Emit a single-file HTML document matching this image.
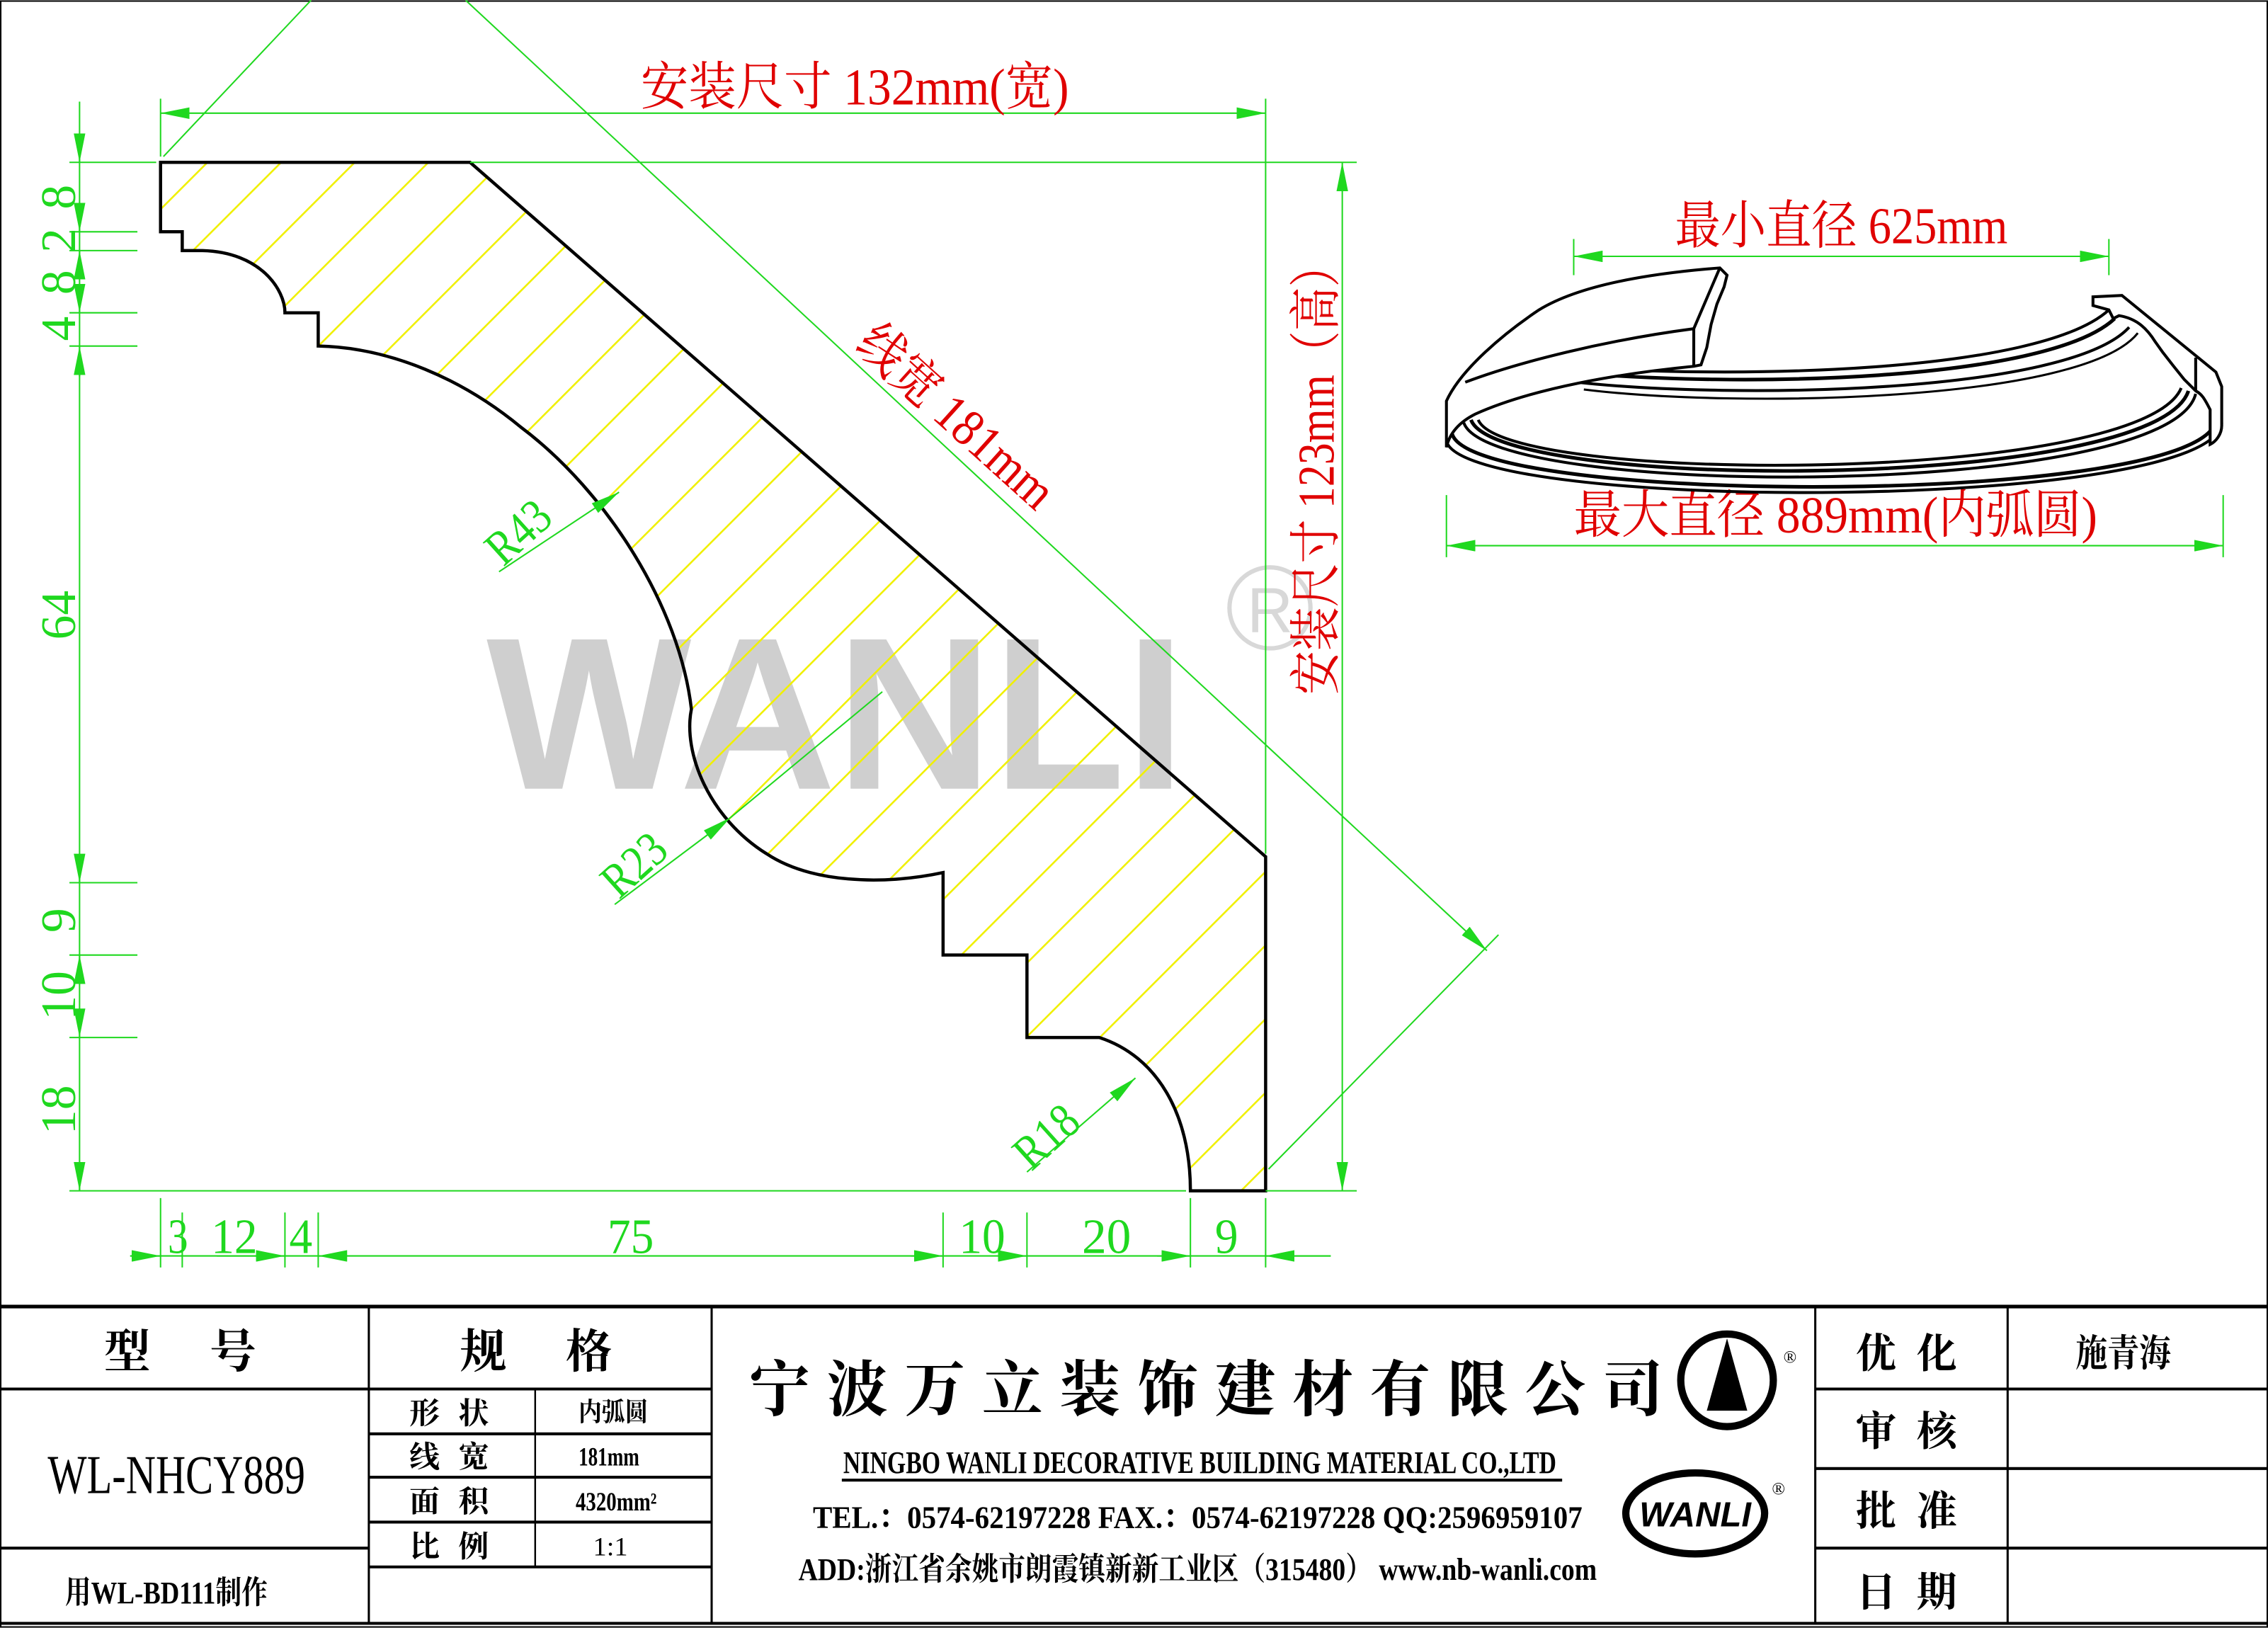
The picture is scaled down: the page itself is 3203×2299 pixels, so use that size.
<!DOCTYPE html>
<html><head><meta charset="utf-8"><style>
html,body{margin:0;padding:0;background:#fff}
svg{display:block}
text{font-family:"Liberation Serif","Noto Serif CJK SC","Noto Sans CJK SC",serif}
.g{fill:#1fd81f}.r{fill:#e00000}
</style></head><body>
<svg width="3203" height="2299" viewBox="0 0 1568 1125" xmlns="http://www.w3.org/2000/svg">
<defs>
<pattern id="h" patternUnits="userSpaceOnUse" width="36" height="36" patternTransform="rotate(-45)">
<line x1="0" y1="0" x2="36" y2="0" stroke="#f0f000" stroke-width="2.6"/>
</pattern>
<marker id="a" viewBox="0 0 20 8" refX="20" refY="4" markerWidth="20" markerHeight="8" markerUnits="userSpaceOnUse" orient="auto-start-reverse"><path d="M0,0 L20,4 L0,8 z" fill="#1fd81f"/></marker>
</defs>
<rect x="0.5" y="0.5" width="1567" height="1124" fill="#fff" stroke="#000" stroke-width="1"/>

<text x="578" y="545" text-anchor="middle" font-weight="bold" font-size="150" fill="#cfcfcf" style="font-family:'Liberation Sans',sans-serif">WANLI</text>
<circle cx="878" cy="420" r="28" fill="none" stroke="#d8d8d8" stroke-width="3"/>
<text x="878" y="437" text-anchor="middle" font-size="44" fill="#d8d8d8" style="font-family:'Liberation Sans',sans-serif">R</text>

<path d="M111,112 L325,112 L875,592 L875,823 L823,823 C823,770 800,730 760,717 L710,717 L710,660 L652,660 L652,603 C610,612 560,610 530,590 C490,565 472,520 478,490 C470,420 420,340 360,295 C320,262 270,240 220,239 L220,216 L197,216 C197,200 180,174 140,173 L126,173 L126,160 L111,160 Z" fill="url(#h)" stroke="#000" stroke-width="2.2"/>

<g stroke="#1fd81f" stroke-width="1" fill="none">
<line x1="111" y1="78" x2="875" y2="78" marker-start="url(#a)" marker-end="url(#a)"/>
<line x1="111" y1="68" x2="111" y2="108"/>
<line x1="875" y1="68" x2="875" y2="590"/>
<line x1="928" y1="112" x2="928" y2="823" marker-start="url(#a)" marker-end="url(#a)"/>
<line x1="325" y1="112" x2="938" y2="112"/>
<line x1="875" y1="823" x2="938" y2="823"/>
<line x1="113" y1="108" x2="215" y2="0"/>
<line x1="322" y1="0" x2="1028" y2="657" marker-end="url(#a)"/>
<line x1="877" y1="808" x2="1036" y2="646"/>
<line x1="55" y1="70" x2="55" y2="823"/>
<line x1="48" y1="112" x2="108" y2="112"/>
<line x1="48" y1="160" x2="95" y2="160"/>
<line x1="48" y1="173" x2="95" y2="173"/>
<line x1="48" y1="216" x2="95" y2="216"/>
<line x1="48" y1="239" x2="95" y2="239"/>
<line x1="48" y1="610" x2="95" y2="610"/>
<line x1="48" y1="660" x2="95" y2="660"/>
<line x1="48" y1="717" x2="95" y2="717"/>
<line x1="48" y1="823" x2="820" y2="823"/>
<line x1="55" y1="95" x2="55" y2="112" marker-end="url(#a)"/>
<line x1="55" y1="140" x2="55" y2="160" marker-end="url(#a)"/>
<line x1="55" y1="190" x2="55" y2="173" marker-end="url(#a)"/>
<line x1="55" y1="196" x2="55" y2="216" marker-end="url(#a)"/>
<line x1="55" y1="260" x2="55" y2="239" marker-end="url(#a)"/>
<line x1="55" y1="590" x2="55" y2="610" marker-end="url(#a)"/>
<line x1="55" y1="680" x2="55" y2="660" marker-end="url(#a)"/>
<line x1="55" y1="697" x2="55" y2="717" marker-end="url(#a)"/>
<line x1="55" y1="803" x2="55" y2="823" marker-end="url(#a)"/>
<line x1="90" y1="868" x2="920" y2="868"/>
<line x1="111" y1="828" x2="111" y2="876"/>
<line x1="126" y1="838" x2="126" y2="876"/>
<line x1="197" y1="838" x2="197" y2="876"/>
<line x1="220" y1="838" x2="220" y2="876"/>
<line x1="652" y1="838" x2="652" y2="876"/>
<line x1="710" y1="838" x2="710" y2="876"/>
<line x1="823" y1="828" x2="823" y2="876"/>
<line x1="875" y1="828" x2="875" y2="876"/>
<line x1="90" y1="868" x2="111" y2="868" marker-end="url(#a)"/>
<line x1="150" y1="868" x2="197" y2="868" marker-end="url(#a)"/>
<line x1="240" y1="868" x2="220" y2="868" marker-end="url(#a)"/>
<line x1="630" y1="868" x2="652" y2="868" marker-end="url(#a)"/>
<line x1="690" y1="868" x2="710" y2="868" marker-end="url(#a)"/>
<line x1="800" y1="868" x2="823" y2="868" marker-end="url(#a)"/>
<line x1="920" y1="868" x2="875" y2="868" marker-end="url(#a)"/>
<line x1="345" y1="395" x2="428" y2="340" marker-end="url(#a)"/>
<line x1="425" y1="625" x2="505" y2="565" marker-end="url(#a)"/>
<line x1="505" y1="565" x2="610" y2="478"/>
<line x1="710" y1="810" x2="785" y2="745" marker-end="url(#a)"/>
<line x1="1088" y1="177" x2="1458" y2="177" marker-start="url(#a)" marker-end="url(#a)"/>
<line x1="1088" y1="165" x2="1088" y2="190"/>
<line x1="1458" y1="165" x2="1458" y2="190"/>
<line x1="1000" y1="377" x2="1537" y2="377" marker-start="url(#a)" marker-end="url(#a)"/>
<line x1="1000" y1="342" x2="1000" y2="385"/>
<line x1="1537" y1="342" x2="1537" y2="385"/>
</g>

<g class="g" font-size="34">
<text x="116" y="866" textLength="14" lengthAdjust="spacingAndGlyphs">3</text>
<text x="146" y="866" textLength="32" lengthAdjust="spacingAndGlyphs">12</text>
<text x="200" y="866" textLength="16" lengthAdjust="spacingAndGlyphs">4</text>
<text x="420" y="866" textLength="32" lengthAdjust="spacingAndGlyphs">75</text>
<text x="663" y="866" textLength="32" lengthAdjust="spacingAndGlyphs">10</text>
<text x="748" y="866" textLength="34" lengthAdjust="spacingAndGlyphs">20</text>
<text x="840" y="866" textLength="16" lengthAdjust="spacingAndGlyphs">9</text>
<g transform="translate(52,0) rotate(-90)" text-anchor="middle">
<text x="-136" y="0">8</text>
<text x="-166" y="0">2</text>
<text x="-195" y="0">8</text>
<text x="-227" y="0">4</text>
<text x="-425" y="0">64</text>
<text x="-636" y="0">9</text>
<text x="-688" y="0">10</text>
<text x="-767" y="0">18</text>
</g>
<text transform="translate(348,392) rotate(-42)" textLength="48" lengthAdjust="spacingAndGlyphs">R43</text>
<text transform="translate(428,622) rotate(-42)" textLength="48" lengthAdjust="spacingAndGlyphs">R23</text>
<text transform="translate(713,810) rotate(-42)" textLength="48" lengthAdjust="spacingAndGlyphs">R18</text>
</g>

<g class="r" font-size="36">
<text x="443" y="72" textLength="296" lengthAdjust="spacingAndGlyphs">安装尺寸 132mm(宽)</text>
<text transform="translate(922,480) rotate(-90)" textLength="312" lengthAdjust="spacingAndGlyphs">安装尺寸 123mm（高）</text>
<text transform="translate(590,240) rotate(42)" textLength="170" lengthAdjust="spacingAndGlyphs">线宽 181mm</text>
<text x="1158" y="168" textLength="230" lengthAdjust="spacingAndGlyphs">最小直径 625mm</text>
<text x="1088" y="368" textLength="362" lengthAdjust="spacingAndGlyphs">最大直径 889mm(内弧圆)</text>
</g>

<g fill="none" stroke="#000" stroke-width="2">
<path d="M1080,253 C1200,262 1410,258 1458,214"/>
<path d="M1085,257 C1200,268 1415,264 1462,220" stroke-width="2.5"/>
<path d="M1090,264 C1200,276 1430,272 1472,226"/>
<path d="M1095,269 C1200,282 1440,278 1478,230" stroke-width="1.5"/>
<path d="M1022,290 C1040,335 1480,335 1508,268"/>
<path d="M1017,290 C1035,340 1490,340 1513,270" stroke-width="2.5"/>
<path d="M1012,292 C1030,345 1500,345 1518,272"/>
<path d="M1004,300 C1020,350 1525,350 1532,290" stroke-width="2.5"/>
<path d="M1000,305 C1015,354 1530,354 1536,292"/>
<path d="M1000,309 L1000,277 C1010,255 1040,230 1064,214 C1095,195 1150,188 1189,185 L1194,190 L1192,198 L1187,210 L1183,224 L1180,240 L1176,252 L1171,253 C1120,258 1060,268 1020,286 C1008,292 1002,300 1000,309 Z" fill="#fff"/>
<path d="M1013,264 C1050,250 1110,235 1171,227 L1171,253"/>
<path d="M1189,185 L1171,227"/>
<path d="M1447,205 L1467,204 L1532,257 L1536,267 L1536,294 C1536,300 1532,305 1528,307 L1528,283 C1524,275 1522,272 1518,270 L1510,262 L1502,252 L1495,243 L1490,236 C1485,228 1478,220 1465,218 L1461,220 L1458,214 L1447,211 Z" fill="#fff"/>
<path d="M1518,247 L1518,270"/>
</g>

<g stroke="#000" fill="none">
<line x1="0" y1="903" x2="1568" y2="903" stroke-width="2.5"/>
<line x1="0" y1="1122" x2="1568" y2="1122" stroke-width="2"/>
<line x1="255" y1="903" x2="255" y2="1122" stroke-width="1.5"/>
<line x1="492" y1="903" x2="492" y2="1122" stroke-width="1.5"/>
<line x1="1255" y1="903" x2="1255" y2="1122" stroke-width="1.5"/>
<line x1="1388" y1="903" x2="1388" y2="1122" stroke-width="1.5"/>
<line x1="0" y1="960" x2="492" y2="960" stroke-width="2"/>
<line x1="0" y1="1070" x2="255" y2="1070" stroke-width="2"/>
<line x1="255" y1="991" x2="492" y2="991" stroke-width="2"/>
<line x1="255" y1="1021" x2="492" y2="1021" stroke-width="2"/>
<line x1="255" y1="1052" x2="492" y2="1052" stroke-width="2"/>
<line x1="255" y1="1083" x2="492" y2="1083" stroke-width="2"/>
<line x1="370" y1="960" x2="370" y2="1083" stroke-width="1.2"/>
<line x1="1255" y1="960" x2="1568" y2="960" stroke-width="2"/>
<line x1="1255" y1="1015" x2="1568" y2="1015" stroke-width="2"/>
<line x1="1255" y1="1070" x2="1568" y2="1070" stroke-width="2"/>
<line x1="582" y1="1023" x2="1080" y2="1023" stroke-width="2"/>
<ellipse cx="1194" cy="954" rx="32" ry="32" stroke-width="5"/>
<ellipse cx="1172" cy="1046" rx="48" ry="28" stroke-width="5"/>
</g>
<path d="M1194,925 L1208,975 L1180,975 Z" fill="#000"/>
<text x="1172" y="1055" text-anchor="middle" font-size="24" font-style="italic" font-weight="bold" style="font-family:'Liberation Sans',sans-serif">WANLI</text>
<text x="1233" y="942" font-size="12">®</text>
<text x="1225" y="1033" font-size="12">®</text>

<g font-weight="bold" fill="#000">
<text x="72" y="945" font-size="32" textLength="105" lengthAdjust="spacing">型 号</text>
<text x="318" y="945" font-size="32" textLength="105" lengthAdjust="spacing">规 格</text>
<text x="33" y="1032" font-size="38" font-weight="normal" textLength="178" lengthAdjust="spacingAndGlyphs">WL-NHCY889</text>
<text x="45" y="1108" font-size="22" textLength="140" lengthAdjust="spacingAndGlyphs">用WL-BD111制作</text>
<text x="283" y="984" font-size="21" textLength="55" lengthAdjust="spacing">形 状</text>
<text x="283" y="1014" font-size="21" textLength="55" lengthAdjust="spacing">线 宽</text>
<text x="283" y="1045" font-size="21" textLength="55" lengthAdjust="spacing">面 积</text>
<text x="283" y="1076" font-size="21" textLength="55" lengthAdjust="spacing">比 例</text>
<text x="400" y="982" font-size="18" textLength="48" lengthAdjust="spacingAndGlyphs">内弧圆</text>
<text x="400" y="1013" font-size="18" textLength="42" lengthAdjust="spacingAndGlyphs">181mm</text>
<text x="398" y="1044" font-size="18" textLength="56" lengthAdjust="spacingAndGlyphs">4320mm²</text>
<text x="410" y="1075" font-size="18" font-weight="normal" textLength="24" lengthAdjust="spacingAndGlyphs">1:1</text>
<text x="518" y="975" font-size="42" textLength="632" lengthAdjust="spacing">宁波万立装饰建材有限公司</text>
<text x="583" y="1018" font-size="22" textLength="493" lengthAdjust="spacingAndGlyphs">NINGBO WANLI DECORATIVE BUILDING MATERIAL CO.,LTD</text>
<text x="562" y="1056" font-size="22" textLength="532" lengthAdjust="spacingAndGlyphs">TEL.：0574-62197228  FAX.：0574-62197228  QQ:2596959107</text>
<text x="552" y="1092" font-size="22" textLength="552" lengthAdjust="spacingAndGlyphs">ADD:浙江省余姚市朗霞镇新新工业区（315480） www.nb-wanli.com</text>
<text x="1283" y="945" font-size="28" textLength="70" lengthAdjust="spacing">优 化</text>
<text x="1283" y="999" font-size="28" textLength="70" lengthAdjust="spacing">审 核</text>
<text x="1283" y="1054" font-size="28" textLength="70" lengthAdjust="spacing">批 准</text>
<text x="1283" y="1110" font-size="28" textLength="70" lengthAdjust="spacing">日 期</text>
<text x="1435" y="944" font-size="26" textLength="66" lengthAdjust="spacingAndGlyphs">施青海</text>
</g>
</svg>
</body></html>
